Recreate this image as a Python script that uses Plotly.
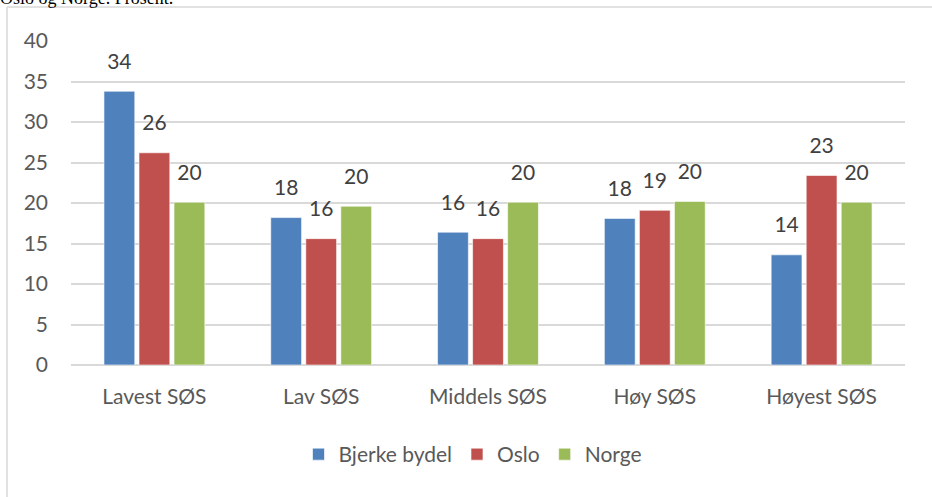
import plotly.graph_objects as go

categories = ["Lavest SØS", "Lav SØS", "Middels SØS", "Høy SØS", "Høyest SØS"]
bjerke = [33.8, 18.2, 16.4, 18.1, 13.6]
oslo = [26.2, 15.6, 15.6, 19.1, 23.4]
norge = [20.1, 19.6, 20.1, 20.2, 20.1]
series_names = ["Bjerke bydel", "Oslo", "Norge"]
colors = ["#4F81BD", "#C0504D", "#9BBB59"]
y_ticks = [0, 5, 10, 15, 20, 25, 30, 35, 40]

FONT = "Lato, 'Open Sans', sans-serif"
GAP = 0.37

fig = go.Figure()
for name, vals, col in zip(series_names, [bjerke, oslo, norge], colors):
    fig.add_trace(go.Bar(
        x=categories, y=vals, name=name,
        marker=dict(color=col, line=dict(color="rgba(255,255,255,0.6)", width=1)),
        offsetgroup=name, hoverinfo="skip",
    ))
for name, vals in zip(series_names, [bjerke, oslo, norge]):
    fig.add_trace(go.Scatter(
        x=categories, y=vals, mode="markers+text", showlegend=False,
        marker=dict(size=26, opacity=0),
        text=[f"{v:.0f}" for v in vals], textposition="top center",
        textfont=dict(size=21, color="#404040", family=FONT),
        offsetgroup=name, cliponaxis=False, hoverinfo="skip",
    ))

L, R, T, B = 71, 27, 41, 132
W, H = 932, 497
pw, ph = W - L - R, H - T - B

def px_x(px):
    return (px - L) / pw

def px_y(py):
    return (H - B - py) / ph

fig.update_layout(
    width=W, height=H,
    margin=dict(l=L, r=R, t=T, b=B, autoexpand=False),
    paper_bgcolor="white", plot_bgcolor="white",
    barmode="group", bargap=GAP, bargroupgap=0.12,
    scattermode="group", scattergap=GAP,
    font=dict(family=FONT, color="#595959", size=21),
    xaxis=dict(showgrid=False, showline=False, ticks="",
               ticklabelstandoff=17,
               tickfont=dict(size=21, color="#595959")),
    yaxis=dict(range=[0, 40], tickvals=y_ticks, showgrid=True,
               gridcolor="#D9D9D9", gridwidth=1.5, zeroline=True,
               zerolinecolor="#D9D9D9", zerolinewidth=1.5,
               ticks="", ticklabelstandoff=22,
               tickfont=dict(size=21, color="#595959")),
    legend=dict(orientation="h", x=px_x(473), xanchor="center",
                y=px_y(434), yanchor="top",
                font=dict(size=21, color="#595959"),
                itemwidth=30, traceorder="normal"),
    showlegend=True,
    shapes=[
        dict(type="line", xref="paper", yref="paper",
             x0=px_x(7), x1=px_x(7), y0=px_y(7), y1=px_y(520),
             line=dict(color="#D9D9D9", width=1.5)),
        dict(type="line", xref="paper", yref="paper",
             x0=px_x(7), x1=px_x(940), y0=px_y(7), y1=px_y(7),
             line=dict(color="#D9D9D9", width=1.5)),
    ],
    annotations=[
        dict(text="Oslo og Norge. Prosent.", xref="paper", yref="paper",
             x=px_x(-2), y=px_y(10), xanchor="left", yanchor="bottom",
             showarrow=False,
             font=dict(family="'Liberation Serif', serif", size=18, color="#000000")),
    ],
)

fig.write_html("out.html", config={"displayModeBar": False},
               post_script="document.body.style.margin='0';")
